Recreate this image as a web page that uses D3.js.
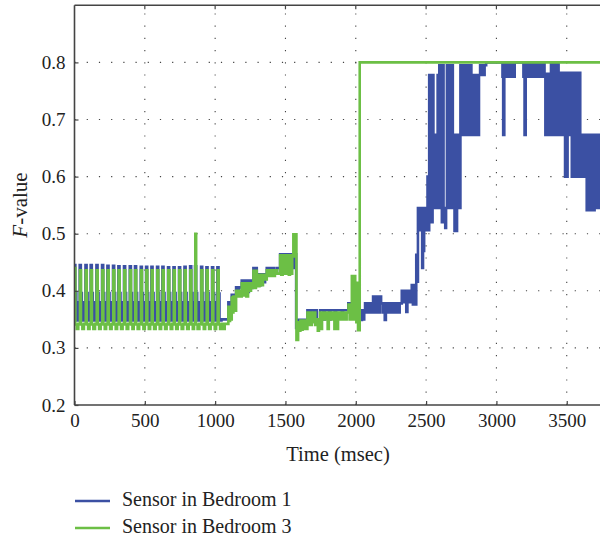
<!DOCTYPE html>
<html>
<head>
<meta charset="utf-8">
<script src="https://cdn.jsdelivr.net/npm/d3@7"></script>
<style>
  html, body { margin: 0; padding: 0; background: #fff; }
  svg { display: block; }
  text { font-family: "Liberation Serif", "Times New Roman", serif; fill: #222; }
</style>
</head>
<body>
<svg id="chart" width="600" height="537"></svg>
<script>
// ---------------- data ----------------
const xTicks = [0, 500, 1000, 1500, 2000, 2500, 3000, 3500];
const yTicks = [0.2, 0.3, 0.4, 0.5, 0.6, 0.7, 0.8];
const seriesNames = ["Sensor in Bedroom 1", "Sensor in Bedroom 3"];
const seriesColors = ["#3b50a3", "#6cbf45"];

// Sensor in Bedroom 1 : [time msec, F-value]
const bedroom1 = [
  [0,0.445],[6,0.396],[13,0.348],[24,0.38],[30,0.348],
  [37,0.445],[45,0.396],[52,0.348],[63,0.38],[69,0.348],
  [78,0.445],[86,0.396],[93,0.348],[104,0.38],[110,0.348],
  [115,0.445],[123,0.396],[130,0.348],[141,0.38],[147,0.348],
  [156,0.445],[164,0.396],[171,0.348],[182,0.38],[188,0.348],
  [196,0.445],[204,0.396],[211,0.348],[222,0.38],[228,0.348],
  [234,0.444],[242,0.396],[249,0.348],[260,0.38],[266,0.348],
  [274,0.444],[282,0.396],[289,0.348],[300,0.38],[306,0.348],
  [312,0.443],[320,0.396],[327,0.348],[338,0.38],[344,0.348],
  [352,0.443],[360,0.396],[367,0.348],[378,0.38],[384,0.348],
  [393,0.443],[401,0.396],[408,0.348],[419,0.38],[425,0.348],
  [430,0.443],[438,0.396],[445,0.348],[456,0.38],[462,0.348],
  [471,0.442],[479,0.396],[486,0.348],[497,0.38],[503,0.348],
  [509,0.442],[517,0.396],[524,0.348],[535,0.38],[541,0.348],
  [547,0.442],[555,0.396],[562,0.348],[573,0.38],[579,0.348],
  [587,0.442],[595,0.396],[602,0.348],[613,0.38],[619,0.348],
  [625,0.442],[633,0.396],[640,0.348],[651,0.38],[657,0.348],
  [665,0.441],[673,0.396],[680,0.348],[691,0.38],[697,0.348],
  [704,0.441],[712,0.396],[719,0.348],[730,0.38],[736,0.348],
  [743,0.441],[751,0.396],[758,0.348],[769,0.38],[775,0.348],
  [782,0.442],[790,0.396],[797,0.348],[808,0.38],[814,0.348],
  [822,0.443],[830,0.396],[837,0.348],[845,0.38],[850,0.348],
  [857,0.443],[865,0.396],[872,0.348],[886,0.38],[892,0.348],
  [900,0.442],[908,0.396],[915,0.348],[926,0.38],[932,0.348],
  [938,0.441],[946,0.396],[953,0.348],[964,0.38],[970,0.348],
  [978,0.441],[986,0.396],[993,0.348],[1004,0.38],[1010,0.348],
  [1016,0.441],[1024,0.395],[1031,0.348],[1045,0.35],
  [1094,0.38],[1100,0.355],[1106,0.38],[1118,0.393],[1126,0.37],[1134,0.393],
  [1149,0.406],[1160,0.395],[1170,0.406],[1189,0.418],[1200,0.398],[1210,0.418],
  [1225,0.398],[1240,0.418],[1255,0.405],[1265,0.418],[1272,0.44],[1282,0.41],
  [1290,0.44],[1296,0.429],[1310,0.41],[1325,0.429],[1340,0.415],[1355,0.429],
  [1367,0.44],[1385,0.428],[1400,0.44],[1420,0.43],[1440,0.44],[1462,0.464],
  [1475,0.43],[1485,0.464],[1500,0.432],[1510,0.464],[1525,0.432],[1535,0.464],
  [1550,0.44],[1560,0.464],[1576,0.335],
  [1588,0.349],[1600,0.34],[1612,0.349],[1630,0.34],[1645,0.349],[1656,0.366],
  [1670,0.35],[1680,0.366],[1700,0.35],[1710,0.366],[1722,0.35],[1746,0.366],
  [1770,0.35],[1780,0.366],[1810,0.35],[1820,0.366],[1850,0.35],[1860,0.366],
  [1900,0.355],[1910,0.366],[1947,0.378],[1971,0.36],[2000,0.355],
  [2030,0.366],[2036,0.349],[2044,0.366],[2052,0.35],[2060,0.366],[2066,0.378],
  [2074,0.362],[2082,0.378],[2090,0.362],[2098,0.378],[2106,0.362],[2114,0.378],
  [2123,0.39],[2130,0.362],[2138,0.39],[2146,0.362],[2154,0.39],[2162,0.362],
  [2170,0.39],[2180,0.378],[2190,0.362],[2198,0.378],[2206,0.349],[2214,0.378],
  [2222,0.362],[2232,0.378],[2242,0.362],[2252,0.378],[2262,0.362],[2272,0.378],
  [2282,0.362],[2292,0.378],[2302,0.362],[2312,0.378],[2327,0.4],[2335,0.38],
  [2343,0.4],[2351,0.38],[2359,0.363],[2367,0.4],[2375,0.38],[2383,0.4],
  [2391,0.38],[2398,0.41],[2406,0.376],[2414,0.41],[2422,0.376],
  [2430,0.463],[2436,0.416],[2442,0.545],[2448,0.506],[2454,0.545],[2460,0.506],
  [2466,0.545],[2472,0.44],[2478,0.47],[2486,0.545],[2492,0.506],[2498,0.545],
  [2504,0.506],[2510,0.6],[2516,0.506],[2522,0.778],[2528,0.545],[2534,0.778],
  [2540,0.52],[2546,0.778],[2552,0.545],[2558,0.673],[2564,0.545],[2570,0.673],
  [2576,0.545],[2582,0.778],[2588,0.545],[2594,0.795],[2600,0.545],[2606,0.795],
  [2612,0.52],[2618,0.795],[2624,0.52],[2630,0.545],[2636,0.51],[2642,0.545],
  [2648,0.795],[2654,0.545],[2660,0.795],[2666,0.545],[2672,0.795],[2678,0.545],
  [2684,0.795],[2690,0.545],[2696,0.673],[2702,0.505],[2708,0.673],[2714,0.505],
  [2720,0.673],[2726,0.545],[2732,0.673],[2738,0.545],[2744,0.795],[2750,0.673],
  [2756,0.795],[2762,0.673],[2768,0.795],[2774,0.673],[2780,0.795],[2786,0.673],
  [2792,0.795],[2798,0.673],[2804,0.778],[2810,0.673],[2816,0.795],[2822,0.673],
  [2828,0.778],[2834,0.673],[2840,0.778],[2846,0.673],[2852,0.778],[2858,0.673],
  [2864,0.778],[2870,0.673],[2876,0.778],[2884,0.795],[2892,0.778],[2900,0.795],
  [2908,0.778],[2916,0.795],[2927,0.8],
  [3043,0.775],[3048,0.673],[3056,0.8],[3064,0.775],[3070,0.8],[3076,0.775],
  [3082,0.8],[3088,0.775],[3094,0.8],[3100,0.775],[3106,0.8],[3112,0.775],
  [3118,0.8],[3124,0.775],[3130,0.8],
  [3192,0.775],[3200,0.673],[3208,0.8],[3214,0.775],[3222,0.8],[3230,0.775],
  [3238,0.8],[3246,0.775],[3254,0.8],[3262,0.775],[3270,0.8],[3278,0.775],
  [3286,0.8],[3294,0.775],[3302,0.8],[3310,0.775],[3318,0.8],[3326,0.775],
  [3334,0.8],[3342,0.775],[3348,0.673],[3356,0.78],[3364,0.673],[3372,0.78],
  [3380,0.673],[3388,0.8],[3396,0.673],[3404,0.8],[3412,0.673],[3420,0.8],
  [3428,0.673],[3436,0.8],[3442,0.673],[3450,0.782],[3458,0.673],[3466,0.782],
  [3474,0.673],[3482,0.782],[3488,0.6],[3494,0.782],[3500,0.6],[3506,0.782],
  [3514,0.673],[3522,0.782],[3530,0.673],[3536,0.6],[3542,0.782],[3548,0.6],
  [3556,0.782],[3564,0.673],[3572,0.6],[3578,0.782],[3584,0.6],[3590,0.782],
  [3596,0.6],[3604,0.673],[3612,0.6],[3620,0.673],[3628,0.6],[3636,0.673],
  [3642,0.541],[3650,0.673],[3658,0.541],[3666,0.673],[3674,0.541],[3682,0.673],
  [3690,0.541],[3698,0.673],[3706,0.545],[3712,0.6],[3718,0.545],[3724,0.673],
  [3730,0.545],[3736,0.6],[3745,0.545]
];

// Sensor in Bedroom 3 : [time msec, F-value]
const bedroom3 = [
  [0,0.44],[6,0.341],[16,0.333],[27,0.342],
  [39,0.436],[46,0.341],[56,0.333],[67,0.342],
  [80,0.436],[87,0.341],[97,0.333],[107,0.342],
  [117,0.436],[124,0.341],[134,0.333],[146,0.342],
  [158,0.436],[165,0.341],[175,0.333],[186,0.342],
  [198,0.436],[205,0.341],[215,0.333],[225,0.342],
  [236,0.436],[243,0.341],[253,0.333],[264,0.342],
  [276,0.436],[283,0.341],[293,0.333],[303,0.342],
  [314,0.436],[321,0.341],[331,0.333],[342,0.342],
  [354,0.436],[361,0.341],[371,0.333],[382,0.342],
  [395,0.436],[402,0.341],[412,0.333],[421,0.342],
  [432,0.436],[439,0.341],[449,0.333],[460,0.342],
  [473,0.436],[480,0.341],[490,0.333],[500,0.342],
  [511,0.436],[518,0.341],[528,0.333],[538,0.342],
  [549,0.436],[556,0.341],[566,0.333],[577,0.342],
  [589,0.436],[596,0.341],[606,0.333],[616,0.342],
  [627,0.436],[634,0.341],[644,0.333],[655,0.342],
  [667,0.436],[674,0.341],[684,0.333],[695,0.342],
  [706,0.436],[713,0.341],[723,0.333],[734,0.342],
  [745,0.436],[752,0.341],[762,0.333],[773,0.342],
  [784,0.436],[791,0.341],[801,0.333],[812,0.342],
  [824,0.436],[831,0.341],[841,0.333],[850,0.342],
  [859,0.5],[865,0.341],[875,0.333],[888,0.342],
  [902,0.436],[909,0.341],[919,0.333],[929,0.342],
  [940,0.436],[947,0.341],[957,0.333],[968,0.342],
  [980,0.436],[987,0.341],[997,0.333],[1007,0.342],
  [1018,0.436],[1025,0.341],[1035,0.333],[1045,0.342],[1055,0.333],[1068,0.342],
  [1080,0.342],[1094,0.372],[1100,0.347],[1106,0.372],[1112,0.35],[1118,0.388],
  [1124,0.362],[1130,0.39],[1138,0.365],[1149,0.4],[1160,0.39],[1170,0.4],
  [1180,0.39],[1189,0.413],[1200,0.392],[1210,0.413],[1222,0.39],[1234,0.413],
  [1245,0.4],[1255,0.413],[1265,0.405],[1272,0.435],[1280,0.405],[1290,0.435],
  [1296,0.428],[1305,0.408],[1315,0.428],[1325,0.41],[1340,0.428],[1355,0.42],
  [1367,0.436],[1380,0.426],[1395,0.436],[1410,0.426],[1425,0.436],[1440,0.43],
  [1462,0.462],[1470,0.428],[1480,0.462],[1490,0.43],[1500,0.462],[1508,0.43],
  [1516,0.462],[1524,0.428],[1532,0.462],[1540,0.43],[1548,0.462],[1556,0.499],
  [1566,0.46],[1572,0.499],[1578,0.314],
  [1590,0.345],[1598,0.33],[1606,0.348],[1614,0.332],[1622,0.348],[1630,0.333],
  [1638,0.348],[1646,0.333],[1656,0.362],[1664,0.34],[1672,0.362],[1680,0.34],
  [1688,0.362],[1696,0.345],[1704,0.362],[1712,0.34],[1722,0.35],[1730,0.33],
  [1738,0.35],[1746,0.362],[1752,0.333],[1760,0.362],[1775,0.35],[1790,0.362],
  [1800,0.333],[1808,0.362],[1825,0.35],[1840,0.362],[1848,0.333],[1858,0.362],
  [1866,0.333],[1874,0.362],[1890,0.35],[1905,0.362],[1920,0.35],[1935,0.362],
  [1948,0.376],[1956,0.35],[1964,0.376],[1972,0.426],[1980,0.35],[1988,0.426],
  [1996,0.414],[2004,0.345],[2010,0.414],[2016,0.331],[2028,0.8],[3750,0.8]
];

// ---------------- layout ----------------
const svg = d3.select("#chart");
const x = d3.scaleLinear().domain([0, 3740]).range([74.5, 600.5]);
const y = d3.scaleLinear().domain([0.2, 0.9]).range([405, 5.3]);
const x0 = x.range()[0], x1 = 602, y0 = y.range()[0], yTop = y.range()[1];

svg.append("defs").append("clipPath").attr("id", "plotClip")
  .append("rect").attr("x", x0).attr("y", yTop).attr("width", x1 - x0).attr("height", y0 - yTop);

// grid
const grid = svg.append("g").attr("stroke", "#444").attr("stroke-width", 1.1)
  .attr("stroke-dasharray", "1.2,11");
grid.selectAll(".gx").data(xTicks.filter(d => d > 0)).enter().append("line")
  .attr("x1", d => x(d)).attr("x2", d => x(d)).attr("y1", y0).attr("y2", yTop);
grid.selectAll(".gy").data(yTicks.filter(d => d > 0.2)).enter().append("line")
  .attr("x1", x0).attr("x2", x1).attr("y1", d => y(d)).attr("y2", d => y(d));

// lines
const line = d3.line().x(d => x(d[0])).y(d => y(d[1])).curve(d3.curveStepAfter);
const plot = svg.append("g").attr("clip-path", "url(#plotClip)");
[bedroom1, bedroom3].forEach((s, i) => {
  plot.append("path").datum(s).attr("d", line)
    .attr("fill", "none").attr("stroke", seriesColors[i])
    .attr("stroke-width", 2.6).attr("stroke-linejoin", "miter");
});

// axes
const axisColor = "#444";
const xAxis = d3.axisBottom(x).tickValues(xTicks).tickSize(-4).tickPadding(9).tickFormat(d3.format("d"));
const yAxis = d3.axisLeft(y).tickValues(yTicks).tickSize(-4).tickPadding(9).tickFormat(d3.format(".1f"));
const gx = svg.append("g").attr("transform", `translate(0,${y0})`).call(xAxis);
const gy = svg.append("g").attr("transform", `translate(${x0},0)`).call(yAxis);
[gx, gy].forEach(g => {
  g.select(".domain").remove();
  g.selectAll(".tick line").attr("stroke", axisColor).attr("stroke-width", 1.2);
  g.selectAll(".tick text").attr("font-family", "Liberation Serif, serif").attr("font-size", 19).attr("fill", "#222");
});
// top ticks
svg.append("g").selectAll("line").data(xTicks.filter(d => d > 0)).enter().append("line")
  .attr("x1", d => x(d)).attr("x2", d => x(d)).attr("y1", yTop).attr("y2", yTop + 4)
  .attr("stroke", axisColor).attr("stroke-width", 1.2);

// frame (left, bottom, top)
svg.append("line").attr("x1", x0).attr("x2", x0).attr("y1", yTop).attr("y2", y0)
  .attr("stroke", axisColor).attr("stroke-width", 1.6);
svg.append("line").attr("x1", x0).attr("x2", x1).attr("y1", y0).attr("y2", y0)
  .attr("stroke", axisColor).attr("stroke-width", 1.6);
svg.append("line").attr("x1", x0).attr("x2", x1).attr("y1", yTop).attr("y2", yTop)
  .attr("stroke", axisColor).attr("stroke-width", 1.6);

// axis titles
svg.append("text").attr("x", 338).attr("y", 461).attr("text-anchor", "middle")
  .attr("font-size", 20.5).text("Time (msec)");
const yl = svg.append("text").attr("transform", "translate(27,205) rotate(-90)")
  .attr("text-anchor", "middle").attr("font-size", 21);
yl.append("tspan").attr("font-style", "italic").text("F");
yl.append("tspan").text("-value");

// legend
const leg = svg.append("g");
seriesNames.forEach((name, i) => {
  const ly = 501 + i * 27;
  leg.append("line").attr("x1", 75).attr("x2", 110).attr("y1", ly).attr("y2", ly)
    .attr("stroke", seriesColors[i]).attr("stroke-width", 2.6);
  leg.append("text").attr("x", 122).attr("y", ly + 4.5).attr("font-size", 20).text(name);
});
</script>
</body>
</html>
